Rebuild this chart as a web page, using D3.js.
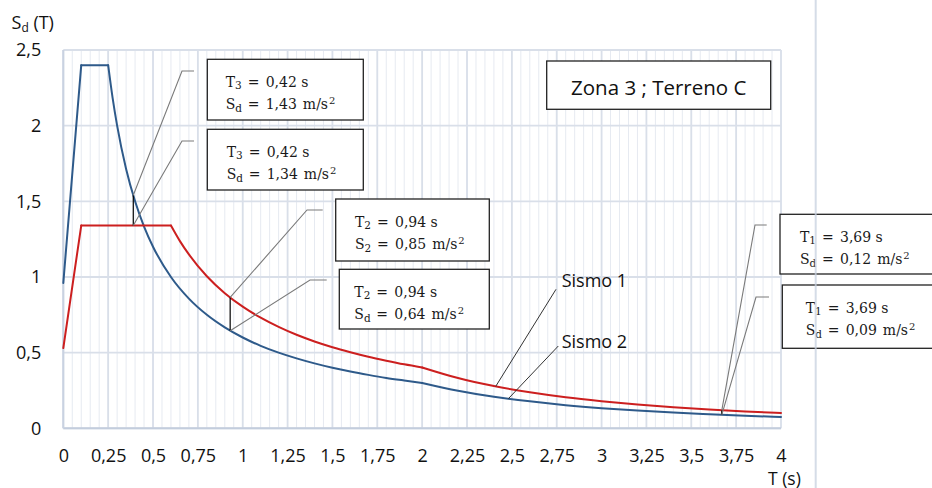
<!DOCTYPE html>
<html><head><meta charset="utf-8">
<script src="https://cdn.jsdelivr.net/npm/d3@7"></script>
<style>body{margin:0;background:#fff} svg{display:block}</style>
</head><body><svg id="c" width="932" height="488"></svg>
<script>
// ---------- DATA ----------
const sismo1T  = [0, 0.1, 0.6, 0.65, 0.7, 0.8, 0.9, 1.0, 1.1, 1.2, 1.3, 1.4, 1.5, 1.6, 1.7, 1.8, 1.9, 2.0, 2.2, 2.4, 2.6, 2.8, 3.0, 3.2, 3.4, 3.6, 3.8, 4.0];
const sismo1Sd = [0.53, 1.34, 1.34, 1.237, 1.149, 1.005, 0.893, 0.804, 0.731, 0.670, 0.618, 0.574, 0.536, 0.503, 0.473, 0.447, 0.423, 0.402, 0.332, 0.279, 0.238, 0.205, 0.179, 0.157, 0.139, 0.124, 0.111, 0.101];
const sismo2T  = [0, 0.1, 0.25, 0.275, 0.3, 0.35, 0.4, 0.45, 0.5, 0.6, 0.7, 0.8, 0.9, 1.0, 1.1, 1.2, 1.3, 1.4, 1.5, 1.6, 1.7, 1.8, 1.9, 2.0, 2.2, 2.4, 2.6, 2.8, 3.0, 3.2, 3.4, 3.6, 3.8, 4.0];
const sismo2Sd = [0.96, 2.4, 2.4, 2.182, 2.0, 1.714, 1.5, 1.333, 1.2, 1.0, 0.857, 0.75, 0.667, 0.6, 0.545, 0.5, 0.462, 0.429, 0.4, 0.375, 0.353, 0.333, 0.316, 0.3, 0.248, 0.208, 0.178, 0.153, 0.133, 0.117, 0.104, 0.093, 0.083, 0.075];
const sismo1Corners = [0.1, 0.6, 2.0];
const sismo2Corners = [0.1, 0.25, 2.0];

const xTicks = [0, 0.25, 0.5, 0.75, 1, 1.25, 1.5, 1.75, 2, 2.25, 2.5, 2.75, 3, 3.25, 3.5, 3.75, 4];
const xTickLabels = ["0","0,25","0,5","0,75","1","1,25","1,5","1,75","2","2,25","2,5","2,75","3","3,25","3,5","3,75","4"];
const yTicks = [0, 0.5, 1, 1.5, 2, 2.5];
const yTickLabels = ["0","0,5","1","1,5","2","2,5"];

// marked periods: value on Sismo 1 (red) and Sismo 2 (blue)
const markT   = [0.39, 0.93, 3.67];
const markSd1 = [1.34, 0.865, 0.119];
const markSd2 = [1.54, 0.645, 0.089];

// annotation boxes
const boxPeriodSub = ["3","3","2","2","1","1"];
const boxPeriod    = ["0,42 s","0,42 s","0,94 s","0,94 s","3,69 s","3,69 s"];
const boxAccSub    = ["d","d","2","d","d","d"];
const boxAcc       = ["1,43","1,34","0,85","0,64","0,12","0,09"];
const boxUnit      = "m/s";
const boxMark      = [0, 0, 1, 1, 2, 2];
const boxSeries    = [2, 1, 1, 2, 1, 2];

// series name labels
const seriesNames = ["Sismo 1", "Sismo 2"];
const nameT  = [2.41, 2.48];
const nameSd = [0.277, 0.195];

const title = "Zona 3 ; Terreno C";

// ---------- LAYOUT ----------
const W = 932, H = 488;
const plot = {x0: 63.3, x1: 781, y0: 428.3, y1: 50};
const boxLayout = [
  {x:207.3, y:59.3,  w:156,   h:60.7, tx:18.4, ex:182, ey:71,  hx:194},
  {x:207.3, y:129.3, w:156,   h:60.7, tx:19.4, ex:182, ey:141, hx:194},
  {x:335.7, y:199,   w:153.6, h:62,   tx:19.3, ex:307, ey:210, hx:322.7},
  {x:339.3, y:269.3, w:150,   h:59.7, tx:15,   ex:310, ey:280, hx:326.7},
  {x:780,   y:214.3, w:170,   h:59.7, tx:20,   ex:755, ey:225, hx:766.7},
  {x:782.3, y:285,   w:170,   h:63.3, tx:23.4, ex:756, ey:297, hx:769}
];
const nameLayout = [
  {lx:561.7, ly:287.3, ex:556,   ey:289.3},
  {lx:561.7, ly:348.3, ex:558.3, ey:346}
];
const sansFont = "'Open Sans', sans-serif";
const serifFont = "'DejaVu Serif', serif";
const red = "#cc1f1f", blue = "#2e5a8a";

const svg = d3.select("#c");
svg.append("rect").attr("width", W).attr("height", H).attr("fill", "#fff");

const x = d3.scaleLinear().domain([0, 4]).range([plot.x0, plot.x1]);
const y = d3.scaleLinear().domain([0, 2.5]).range([plot.y0, plot.y1]);

// grid
const g = svg.append("g");
const minor = d3.range(0, 80.5).map(i => i * 0.05);
g.selectAll(".mv").data(minor).join("line")
  .attr("x1", d => x(d)).attr("x2", d => x(d)).attr("y1", y(0)).attr("y2", y(2.5))
  .attr("stroke", "#e6eaf1").attr("stroke-width", 1);
g.selectAll(".Mv").data(xTicks).join("line")
  .attr("x1", d => x(d)).attr("x2", d => x(d)).attr("y1", y(0)).attr("y2", y(2.5))
  .attr("stroke", "#d9dfe9").attr("stroke-width", 1.8);
g.selectAll(".Mh").data(yTicks).join("line")
  .attr("x1", x(0)).attr("x2", x(4)).attr("y1", d => y(d)).attr("y2", d => y(d))
  .attr("stroke", "#d9dfe9").attr("stroke-width", 1.8);
g.append("line").attr("x1", x(0)).attr("x2", x(4)).attr("y1", y(0)).attr("y2", y(0))
  .attr("stroke", "#c3cddd").attr("stroke-width", 2);
g.append("line").attr("x1", x(0)).attr("x2", x(0)).attr("y1", y(0)).attr("y2", y(2.5))
  .attr("stroke", "#c9d2e1").attr("stroke-width", 2);

// axes labels
const xAxis = d3.axisBottom(x).tickValues(xTicks).tickSize(0).tickPadding(20.5)
  .tickFormat((d, i) => xTickLabels[i]);
const yAxis = d3.axisLeft(y).tickValues(yTicks).tickSize(0).tickPadding(22)
  .tickFormat((d, i) => yTickLabels[i]);
const ax = svg.append("g").attr("transform", `translate(0,${y(0)})`).call(xAxis);
const ay = svg.append("g").attr("transform", `translate(${x(0)},0)`).call(yAxis);
[ax, ay].forEach(a => {
  a.select(".domain").remove();
  a.selectAll("text").attr("font-family", sansFont).attr("font-size", 18).attr("fill", "#111");
});

// series lines (split at corner periods so the corners stay sharp)
function drawSeries(T, S, corners, color) {
  const pts = T.map((t, i) => [t, S[i]]);
  const cut = [0, ...corners.map(c => T.indexOf(c)), T.length - 1];
  const line = d3.line().x(d => x(d[0])).y(d => y(d[1])).curve(d3.curveMonotoneX);
  for (let k = 0; k < cut.length - 1; k++) {
    svg.append("path").attr("d", line(pts.slice(cut[k], cut[k + 1] + 1)))
      .attr("fill", "none").attr("stroke", color).attr("stroke-width", 2)
      .attr("stroke-linejoin", "round").attr("stroke-linecap", "round");
  }
}
drawSeries(sismo2T, sismo2Sd, sismo2Corners, blue);
drawSeries(sismo1T, sismo1Sd, sismo1Corners, red);

// vertical markers
markT.forEach((t, i) => {
  svg.append("line").attr("x1", x(t)).attr("x2", x(t))
    .attr("y1", y(Math.max(markSd1[i], markSd2[i]))).attr("y2", y(Math.min(markSd1[i], markSd2[i])))
    .attr("stroke", "#000").attr("stroke-width", 1.2);
});

// leader lines + boxes
boxLayout.forEach((b, i) => {
  const m = boxMark[i];
  const ptY = boxSeries[i] === 1 ? markSd1[m] : markSd2[m];
  svg.append("path")
    .attr("d", `M${x(markT[m])},${y(ptY)}L${b.ex},${b.ey}L${b.hx},${b.ey}`)
    .attr("fill", "none").attr("stroke", "#7a7a7a").attr("stroke-width", 1.1);
  svg.append("rect").attr("x", b.x).attr("y", b.y).attr("width", b.w).attr("height", b.h)
    .attr("fill", "#fff").attr("stroke", "#222").attr("stroke-width", 1.3);
  const tx = b.x + b.tx;
  const lines = [
    {sym: "T", sub: boxPeriodSub[i], val: boxPeriod[i], unit: null, by: b.y + 27.5},
    {sym: "S", sub: boxAccSub[i], val: boxAcc[i], unit: boxUnit, by: b.y + 50}
  ];
  lines.forEach(L => {
    const t = svg.append("text").attr("font-family", serifFont).attr("font-size", 14)
      .attr("fill", "#1a1a1a").attr("y", L.by);
    t.append("tspan").attr("x", tx).text(L.sym);
    t.append("tspan").attr("font-size", 10.5).attr("dy", 2.5).text(L.sub);
    t.append("tspan").attr("x", tx + 22).attr("dy", -2.5).text("=");
    t.append("tspan").attr("x", tx + 40).text(L.val);
    if (L.unit) {
      t.append("tspan").attr("dx", 6).text(L.unit);
      t.append("tspan").attr("font-size", 10).attr("dx", 1).attr("dy", -5.5).text("2");
    }
  });
});

// series name labels
seriesNames.forEach((n, i) => {
  const L = nameLayout[i];
  svg.append("line").attr("x1", x(nameT[i])).attr("y1", y(nameSd[i]))
    .attr("x2", L.ex).attr("y2", L.ey).attr("stroke", "#333").attr("stroke-width", 1);
  svg.append("text").attr("x", L.lx).attr("y", L.ly).attr("font-family", sansFont)
    .attr("font-size", 18).attr("fill", "#111").text(n);
});

// title box
svg.append("rect").attr("x", 546.7).attr("y", 61).attr("width", 224).attr("height", 48.3)
  .attr("fill", "#fff").attr("stroke", "#222").attr("stroke-width", 1.3);
svg.append("text").attr("x", 658.7).attr("y", 95).attr("text-anchor", "middle")
  .attr("font-family", sansFont).attr("font-size", 20.5).attr("fill", "#111").text(title);

// axis titles
const yt = svg.append("text").attr("x", 11.5).attr("y", 29.3).attr("font-family", sansFont)
  .attr("font-size", 18).attr("fill", "#111");
yt.append("tspan").text("S");
yt.append("tspan").attr("font-size", 12).attr("dy", 3).text("d");
yt.append("tspan").attr("dy", -3).text(" (T)");
svg.append("text").attr("x", 768).attr("y", 484.5).attr("font-family", sansFont)
  .attr("font-size", 17.5).attr("fill", "#111").text("T (s)");

// outer frame edge
svg.append("line").attr("x1", 815.7).attr("x2", 815.7).attr("y1", 0).attr("y2", H)
  .attr("stroke", "#c8d1e0").attr("stroke-width", 2).attr("opacity", 0.75);
</script></body></html>
